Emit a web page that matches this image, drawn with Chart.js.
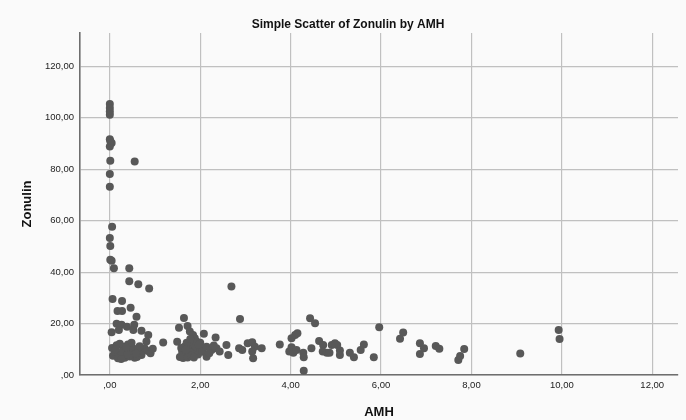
<!DOCTYPE html>
<html>
<head>
<meta charset="utf-8">
<script src="https://cdn.jsdelivr.net/npm/chart.js@4"></script>
<style>
  html, body { margin: 0; padding: 0; background: #fafafa; }
  #wrap { width: 686px; height: 420px; }
</style>
</head>
<body>
<div id="wrap"><canvas id="graph" width="686" height="420"></canvas></div>
<script>
// AMH (x) and Zonulin (y)
const amhValues = [
    0.00, 0.00, 0.00, 0.00, 0.00, 0.04, 0.00, 0.01, 0.01, 0.55, 0.00, 0.00, 0.05, 0.00, 0.01, 0.01, 0.04,
    0.09, 0.43, 0.43, 0.63, 0.87, 0.06, 0.27, 0.17, 0.27, 0.46, 0.59, 0.15, 0.26, 0.38, 0.54, 0.52, 0.04,
    0.20, 0.70, 0.85, 1.18, 0.81,
    0.05, 0.07, 0.15, 0.22, 0.29, 0.33, 0.40, 0.44, 0.51, 0.55, 0.62, 0.70, 0.77, 0.84, 0.11, 0.22, 0.33,
    0.44, 0.51, 0.70, 0.90, 0.95, 0.18, 0.28, 0.38, 0.60, 0.13, 0.48, 0.66, 0.25, 0.58, 0.36,
    1.49, 1.53, 1.64, 1.72, 1.77, 1.84, 1.88, 2.08, 2.34, 2.69, 2.88,
    1.55, 1.60, 1.65, 1.70, 1.75, 1.80, 1.85, 1.90, 1.95, 2.00, 1.62, 1.72, 1.80, 1.92, 2.00, 1.70, 1.58,
    2.05, 1.78, 1.68, 1.86, 1.96,
    2.14, 2.25, 2.36, 2.43, 2.58, 2.62, 2.14, 2.20, 2.30, 2.86, 2.93, 3.05, 3.15, 3.21, 3.15, 3.17, 3.36,
    3.76, 4.02, 4.10, 4.15, 4.02, 3.97, 4.06, 4.13, 4.28, 4.29, 4.29, 4.43, 4.54, 4.46, 4.63, 4.72, 4.71,
    4.80, 4.86, 4.91, 4.98, 5.03, 5.09, 5.09, 5.31, 5.40, 5.55, 5.62, 5.84, 5.96, 6.42, 6.49, 6.86, 6.86,
    6.95, 7.21, 7.29, 7.71, 7.75, 7.84, 9.08, 9.93, 9.95
];
const zonulinValues = [
    105.4, 103.8, 102.5, 101.2, 91.7, 90.2, 88.9, 91.0, 83.3, 83.0, 78.2, 73.2, 57.7, 53.3, 50.2, 44.8, 44.4,
    41.5, 41.5, 36.5, 35.3, 33.6, 29.6, 28.8, 24.9, 24.9, 26.2, 22.7, 19.9, 19.5, 18.8, 19.5, 17.5, 16.6,
    17.5, 17.2, 15.6, 12.6, 13.0,
    10.5, 7.5, 11.6, 12.2, 11.0, 9.5, 11.9, 8.9, 10.4, 6.7, 9.3, 8.9, 10.4, 9.3, 8.9, 7.8, 6.7,
    7.2, 7.8, 7.8, 8.5, 10.2, 6.5, 9.0, 8.0, 7.0, 10.0, 12.5, 11.2, 6.2, 8.3, 10.8,
    12.9, 18.4, 22.2, 19.1, 16.9, 15.6, 14.3, 16.0, 14.6, 34.4, 21.8,
    7.0, 9.0, 11.0, 8.0, 10.0, 12.0, 9.0, 11.0, 8.0, 10.0, 6.6, 6.8, 7.5, 13.0, 12.5, 12.5, 10.5,
    9.0, 14.0, 9.8, 6.8, 11.8,
    11.0, 9.7, 10.4, 9.1, 11.7, 7.8, 7.1, 8.5, 11.5, 10.4, 9.7, 12.3, 12.7, 11.0, 9.1, 6.5, 10.4,
    11.9, 14.3, 15.6, 16.2, 10.8, 9.1, 8.7, 9.7, 8.7, 6.9, 1.7, 22.1, 20.1, 10.4, 13.2, 11.7, 9.1,
    8.7, 8.7, 11.7, 12.3, 11.7, 9.5, 7.8, 8.7, 6.9, 9.7, 11.9, 6.9, 18.6, 14.1, 16.5, 12.3, 8.2,
    10.4, 11.3, 10.2, 5.8, 7.4, 10.1, 8.4, 17.5, 14.0
];

const xTicks = [0, 2, 4, 6, 8, 10, 12];
const yTicks = [0, 20, 40, 60, 80, 100, 120];

// SPSS style labels: ",00" for zero, comma as decimal mark
function fmt(v) {
    return v === 0 ? ',00' : v.toFixed(2).replace('.', ',');
}

const points = amhValues.map((x, i) => ({ x: x, y: zonulinValues[i] }));

const tickFont = { family: 'Liberation Sans, Arial, sans-serif', size: 9.5 };
const titleFont = { family: 'Liberation Sans, Arial, sans-serif', size: 13, weight: 'bold' };

new Chart(document.getElementById('graph'), {
    type: 'scatter',
    data: {
        datasets: [{
            label: 'Zonulin',
            data: points,
            backgroundColor: 'rgb(88, 88, 88)',
            borderWidth: 0,
            pointRadius: 4,
            pointHoverRadius: 4
        }]
    },
    options: {
        responsive: false,
        animation: false,
        layout: { padding: { left: 18, right: 8, top: 0, bottom: 0 } },
        scales: {
            x: {
                type: 'linear',
                min: -0.66,
                max: 12.57,
                afterBuildTicks: (scale) => { scale.ticks = xTicks.map(v => ({ value: v })); },
                afterFit: (scale) => { scale.height = 45; },
                grid: { color: 'rgb(192, 192, 192)', lineWidth: 1.2, drawTicks: false },
                border: { color: 'rgb(110, 110, 110)', width: 1.6 },
                ticks: { font: tickFont, color: '#222', padding: 5, maxRotation: 0, callback: fmt },
                title: { display: true, text: 'AMH', font: titleFont, color: '#111', padding: { top: 2, bottom: 0 } }
            },
            y: {
                type: 'linear',
                min: 0,
                max: 133,
                afterBuildTicks: (scale) => { scale.ticks = yTicks.map(v => ({ value: v })); },
                afterFit: (scale) => { scale.width = 62; },
                grid: { color: 'rgb(192, 192, 192)', lineWidth: 1.2, drawTicks: false },
                border: { color: 'rgb(110, 110, 110)', width: 1.6 },
                ticks: { font: tickFont, color: '#222', padding: 6, callback: fmt },
                title: { display: true, text: 'Zonulin', font: titleFont, color: '#111', padding: { top: 2, bottom: 0 } }
            }
        },
        plugins: {
            legend: { display: false },
            tooltip: { enabled: false },
            title: {
                display: true,
                text: 'Simple Scatter of Zonulin by AMH',
                font: { family: 'Liberation Sans, Arial, sans-serif', size: 12, weight: 'bold' },
                color: '#111',
                padding: { top: 17, bottom: 1.6 }
            }
        }
    }
});
</script>
</body>
</html>
